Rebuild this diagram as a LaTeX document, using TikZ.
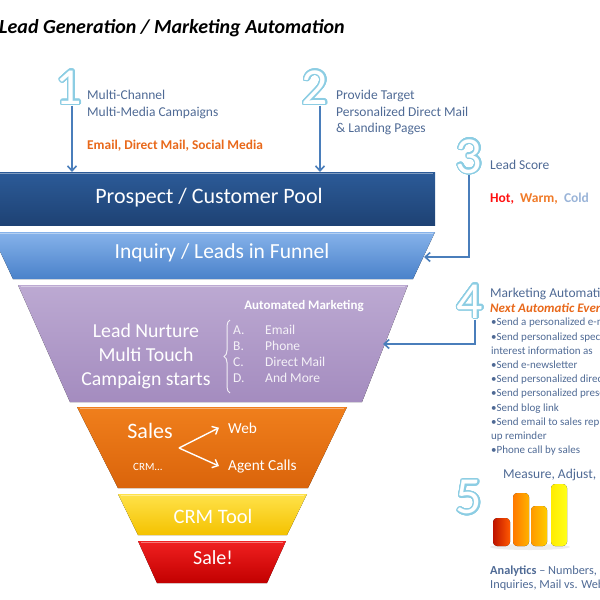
\documentclass[tikz,border=0pt]{standalone}
\usepackage{fontspec}
\setmainfont{Carlito}
\usepackage{contour}
\contourlength{1.3pt}
\contournumber{32}
\usetikzlibrary{arrows.meta,decorations.pathreplacing}

\definecolor{slate}{HTML}{4F6A95}
\definecolor{orangetext}{HTML}{E8681A}
\definecolor{arrowblue}{HTML}{4A7EBB}
\definecolor{numblue}{HTML}{8CCDE3}
\definecolor{hotred}{HTML}{FF1010}
\definecolor{warmorange}{HTML}{F07A28}
\definecolor{coldblue}{HTML}{9AB4D8}
\definecolor{poolA}{HTML}{2C5B98}
\definecolor{poolB}{HTML}{1E4274}
\definecolor{inqA}{HTML}{86B2EA}
\definecolor{inqB}{HTML}{4A82CA}
\definecolor{nurA}{HTML}{BCA9D2}
\definecolor{nurB}{HTML}{A48CBF}
\definecolor{salesA}{HTML}{F07F1C}
\definecolor{salesB}{HTML}{DA640B}
\definecolor{crmA}{HTML}{FFE24A}
\definecolor{crmB}{HTML}{F4C200}
\definecolor{saleA}{HTML}{F02020}
\definecolor{saleB}{HTML}{C20000}

\begin{document}
\begin{tikzpicture}[
  x=1pt, y=-1pt,
  font=\fontsize{13.5}{16.5}\selectfont,
  stepnum/.style={inner sep=0pt, text=white, font=\fontsize{52}{52}\selectfont},
  note/.style={text=slate, inner sep=0pt, anchor=base west},
  notebox/.style={text=slate, inner sep=0pt, anchor=north west, align=left},
  layertext/.style={text=white, inner sep=0pt, anchor=base},
  hilite/.style={draw=white, opacity=.4, line width=1.5pt},
  arrow/.style={-{Straight Barb[length=5pt,width=9pt]}, line width=1.6pt, draw=arrowblue},
  whitearrow/.style={-{Straight Barb[length=5pt,width=9pt]}, line width=1.4pt, draw=white},
]
\useasboundingbox (0,0) rectangle (600,600);
\clip (0,0) rectangle (600,600);

% ===== Title =====
\node[inner sep=0pt, anchor=base west, font=\fontsize{20}{22}\selectfont\bfseries\itshape] (title) at (-1,33) {Lead Generation / Marketing Automation};

% ===== Funnel layers =====
\fill[top color=poolA, bottom color=poolB] (-10,172) -- (435,172) -- (435,225) -- (-10,225) -- cycle;
\draw[hilite] (0,173.5) -- (433,173.5);
\coordinate (pooltop) at (0,172);
\node[layertext, font=\fontsize{22}{26}\selectfont] (pool) at (209,203) {Prospect / Customer Pool};

\fill[top color=inqA, bottom color=inqB] (-9,232) -- (435,232) -- (413,279) -- (13,279) -- cycle;
\draw[hilite] (0,233.5) -- (433,233.5);
\coordinate (inqR) at (424,257);
\node[layertext, font=\fontsize{21.5}{25}\selectfont] (inquiry) at (222,258) {Inquiry / Leads in Funnel};

\fill[top color=nurA, bottom color=nurB] (18,285) -- (408,285) -- (362,402) -- (70,402) -- cycle;
\draw[hilite] (21,286.5) -- (405,286.5);
\coordinate (nurR) at (383,344);
\node[text=white, inner sep=0pt, align=center, font=\fontsize{19.8}{24}\selectfont] (nurture) at (146,356) {Lead Nurture\\Multi Touch\\Campaign starts};
\node[layertext, font=\fontsize{13}{15}\selectfont\bfseries] (automated) at (304,309) {Automated Marketing};
\draw[white!85!nurB, line width=1pt, decorate, decoration={brace, amplitude=6pt}] (230,393) -- (230,320);
\node[text=white!88!nurB, inner sep=0pt, anchor=north west, align=left, font=\fontsize{13.5}{16}\selectfont] (channels) at (233,325) {\makebox[32pt][l]{A.}Email\\\makebox[32pt][l]{B.}Phone\\\makebox[32pt][l]{C.}Direct Mail\\\makebox[32pt][l]{D.}And More};

\fill[top color=salesA, bottom color=salesB] (77,407) -- (347,407) -- (308,488) -- (118,488) -- cycle;
\draw[hilite] (80,408.5) -- (344,408.5);
\node[layertext, font=\fontsize{22}{24}\selectfont] (sales) at (150,438) {Sales};
\node[layertext, font=\fontsize{11}{12}\selectfont] (crmdots) at (148,470) {CRM...};
\node[note, text=white, font=\fontsize{15.3}{17}\selectfont] (web) at (228,433) {Web};
\node[note, text=white, font=\fontsize{15.3}{17}\selectfont] (agent) at (228,470) {Agent Calls};
\coordinate (fork) at (179,448);
\draw[whitearrow] (fork) -- ([xshift=-9pt]web.west);
\draw[whitearrow] (fork) -- ([xshift=-9pt]agent.west);

\fill[top color=crmA, bottom color=crmB] (118,494) -- (307,494) -- (287,535) -- (138,535) -- cycle;
\draw[hilite] (121,495.5) -- (304,495.5);
\node[layertext, font=\fontsize{20.5}{22}\selectfont] (crmtool) at (213,523) {CRM Tool};

\fill[top color=saleA, bottom color=saleB] (138,541) -- (286,541) -- (267,583) -- (157,583) -- cycle;
\draw[hilite] (141,542.5) -- (283,542.5);
\node[layertext, font=\fontsize{20}{22}\selectfont] (sale) at (213,564) {Sale!};

% ===== Steps 1 and 2 =====
\node[stepnum] (n1) at (69,88) {\contour{numblue}{1}};
\node[notebox] (txt1) at (87,90) {Multi-Channel\\Multi-Media Campaigns};
\node[note, text=orangetext, font=\fontsize{13.4}{15}\selectfont\bfseries] (media) at (87,149) {Email, Direct Mail, Social Media};
\draw[arrow] (n1.south -| 72,0) -- (72,0 |- pooltop);

\node[stepnum] (n2) at (315,88) {\contour{numblue}{2}};
\node[notebox] (txt2) at (336,90) {Provide Target\\Personalized Direct Mail\\\& Landing Pages};
\draw[arrow] (n2.south -| 320,0) -- (320,0 |- pooltop);

% ===== Step 3 =====
\node[stepnum] (n3) at (469,157) {\contour{numblue}{3}};
\node[note] (score) at (490,169) {Lead Score};
\node[note, font=\fontsize{13.5}{15}\selectfont\bfseries] (temps) at (490,202) {\textcolor{hotred}{Hot,}\ \ \textcolor{warmorange}{Warm,}\ \ \textcolor{coldblue}{Cold}};
\draw[arrow] (n3.south) |- (inqR);

% ===== Step 4 =====
\node[stepnum] (n4) at (470,302) {\contour{numblue}{4}};
\node[note, font=\fontsize{13.5}{16}\selectfont] (mkt) at (490,297) {Marketing Automation};
\node[note, text=orangetext, font=\fontsize{13}{15}\selectfont\bfseries\itshape] (nextev) at (490,312) {Next Automatic Events};
\node[notebox, font=\fontsize{11}{14.2}\selectfont] (events) at (491,318) {\textbullet Send a personalized e-mail\\\textbullet Send personalized special\\interest information as\\\textbullet Send e-newsletter\\\textbullet Send personalized direct mail\\\textbullet Send personalized presentation\\\textbullet Send blog link\\\textbullet Send email to sales rep for follow-\\up reminder\\\textbullet Phone call by sales};
\draw[arrow] ([xshift=5pt]n4.south) |- (nurR);

% ===== Step 5 =====
\node[stepnum] (n5) at (469,498) {\contour{numblue}{5}};
\node[note] (measure) at (503,478) {Measure, Adjust, Improve};
\fill[black, opacity=.07] (530,547) ellipse (40pt and 3pt);
\fill[rounded corners=4pt, left color=red!70!black!85!orange, right color=orange!70!red] (493,518) rectangle (510,546);
\fill[rounded corners=4pt, left color=orange!95!red, right color=orange!60!yellow] (513,493) rectangle (529,546);
\fill[rounded corners=4pt, left color=orange!80!yellow, right color=yellow!60!orange] (531,506) rectangle (547,546);
\fill[rounded corners=4pt, left color=yellow!85!orange, right color=yellow!90!white] (551,484) rectangle (567,546);
\node[notebox, font=\fontsize{12.3}{14}\selectfont] (analytics) at (490,566) {\textbf{Analytics} -- Numbers, Leads\\Inquiries, Mail vs. Web};

\end{tikzpicture}
\end{document}
